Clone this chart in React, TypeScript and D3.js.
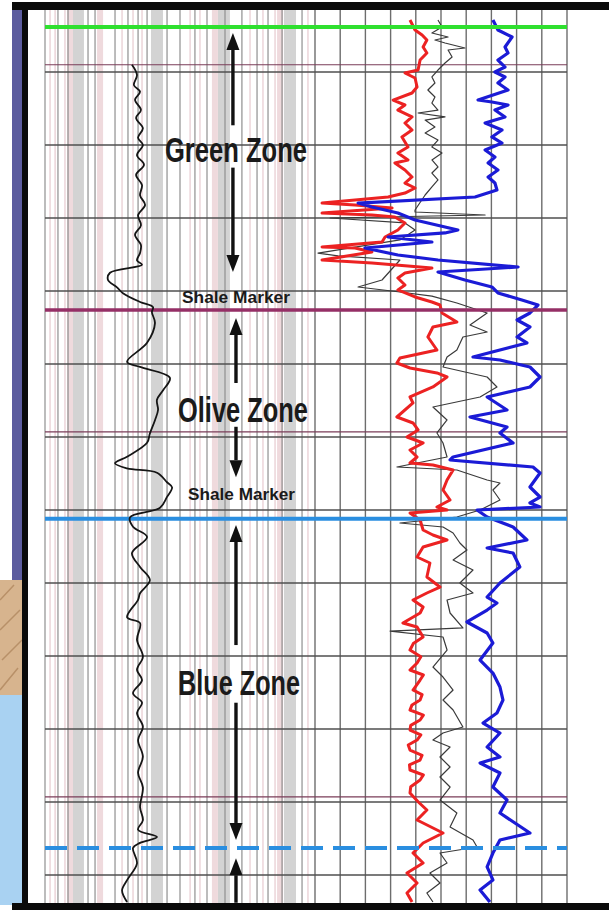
import React from "react";
import * as d3 from "d3";

// depth in ft below the top of the sheet, log values in track units
const majorDepths = [10, 20, 30, 40, 50, 60, 70, 80, 90, 100, 110, 120];
const minorDepths = [9.0, 59.3, 109.3];

// left (GR) track grid, API units 0-150
const grDarkTicks = [0, 7.2, 12.8, 23.9, 27.8, 38.9, 46.1, 51.7, 56.7, 67.8, 75, 83.3, 90, 100, 109.4, 117.8, 123.9, 131.7, 142.8];
const grPinkTicks = [2.8, 5.6, 11.1, 42.8, 48.9, 53.9, 80.6, 86.1, 113.9, 121.1, 127.8, 146.1];
const grGrayBands = [18.3, 62.2, 99.4, 136.1];
const grPinkBands = [13.9, 30.6, 94.4, 130.6];
// right track grid, 0-10
const rightTicks = [0, 1, 2, 3, 4, 5, 6, 7, 8, 9, 10];

const zoneTops = [
  { name: "green", depth: 3.84 },
  { name: "olive", depth: 42.6 },
  { name: "blue", depth: 71.2 },
  { name: "next", depth: 116.3 },
];

const labels = [
  { text: "Green Zone", depth: 22.3, gr: 106.1, size: "big", len: 142 },
  { text: "Shale Marker", depth: 41.6, gr: 106.1, size: "small", len: 108 },
  { text: "Olive Zone", depth: 57.9, gr: 110, size: "big", len: 130 },
  { text: "Shale Marker", depth: 68.6, gr: 109.2, size: "small2", len: 107 },
  { text: "Blue Zone", depth: 95.3, gr: 107.8, size: "big", len: 122 },
];

// [tail depth, tip depth, GR position]
const arrows: [number, number, number][] = [
  [17.3, 4.66, 104.4],
  [23.1, 37.4, 104.4],
  [52.6, 43.7, 106.1],
  [58.6, 65.5, 106.1],
  [88.5, 72.05, 106.1],
  [96.4, 115.2, 106.1],
  [123.8, 117.7, 106.1],
];

const grLog: [number, number][] = [
  [9.0, 48.3], [10.4, 51.1], [11.8, 49.4], [12.7, 52.8], [13.8, 50], [15.2, 53.3], [16.3, 50.6], [17.7, 54.4],
  [19.0, 51.7], [20.0, 54.4], [21.4, 51.1], [22.7, 55], [24.1, 50.6], [25.5, 53.9], [26.9, 52.8], [28.2, 55.6],
  [29.6, 51.7], [31.0, 53.3], [32.3, 50], [33.7, 53.3], [34.8, 52.8], [35.8, 51.1], [36.4, 53.9], [37.5, 36.1],
  [38.5, 35], [39.5, 40], [40.3, 43.3], [41.5, 52.8], [42.2, 60], [42.9, 59.4], [44.4, 61.1], [47.1, 56.7],
  [49.7, 45.6], [50.4, 52.8], [51.9, 69.4], [53.6, 65.6], [54.9, 62.2], [56.3, 62.8], [57.7, 61.1], [59.5, 58.3],
  [60.8, 56.7], [62.7, 45.6], [63.6, 38.9], [64.3, 45.6], [64.9, 62.2], [66.2, 67.8], [66.9, 70.6], [68.2, 67.8],
  [69.7, 63.9], [71.0, 47.2], [72.3, 48.9], [73.7, 56.7], [75.9, 48.3], [77.8, 52.8], [79.6, 58.3], [81.4, 52.8],
  [82.3, 51.7], [84.7, 45.6], [85.5, 52.8], [87.8, 51.1], [90.1, 54.4], [91.9, 51.1], [93.3, 53.9], [95.1, 48.9],
  [96.4, 53.9], [97.8, 51.1], [99.7, 54.4], [101.5, 51.7], [103.8, 54.4], [106.0, 51.7], [108.0, 54.4], [110.7, 52.8],
  [112.5, 54.4], [113.8, 51.7], [114.8, 62.2], [115.6, 52.8], [116.3, 48.9], [118.4, 51.1], [120.7, 45.6], [122.1, 42.8],
  [123.7, 45.6],
];

const redLog: [number, number][] = [
  [2.88, 3.77], [4.25, 3.97], [4.93, 4.25], [5.62, 4.44], [6.58, 4.29], [7.4, 4.44], [8.36, 4.17], [9.73, 4.09],
  [10.14, 3.57], [10.82, 3.97], [12.05, 4.05], [12.88, 3.85], [13.84, 3.1], [14.52, 3.57], [15.21, 3.29], [16.16, 3.85],
  [16.99, 3.57], [17.95, 3.85], [18.9, 3.45], [20.27, 3.69], [21.1, 3.29], [22.05, 3.69], [22.47, 3.17], [23.42, 3.57],
  [24.38, 3.85], [25.21, 3.57], [25.89, 3.97], [26.58, 3.57], [27.12, 2.9], [27.95, 0.28], [28.22, 1.59], [28.63, 3.06],
  [29.32, 0.28], [29.59, 2.26], [29.86, 3.17], [30.68, 3.57], [31.64, 3.29], [32.6, 2.78], [33.29, 2.66], [33.97, 0.28],
  [34.11, 1.59], [34.66, 2.26], [35.75, 0.28], [36.16, 2.26], [36.85, 4.64], [37.53, 3.57], [38.22, 3.29], [39.18, 3.57],
  [39.86, 3.29], [40.82, 3.97], [41.51, 4.64], [41.92, 4.96], [43.01, 5.04], [44.25, 5.63], [44.93, 4.68], [46.3, 4.48],
  [48.08, 4.84], [49.18, 3.37], [49.86, 3.25], [50.55, 3.77], [51.23, 4.84], [51.78, 5.24], [53.15, 4.68], [54.52, 3.77],
  [55.34, 3.89], [57.26, 3.25], [58.08, 3.89], [59.04, 4.09], [60, 3.65], [60.82, 4.29], [61.78, 3.77], [62.74, 4.05],
  [63.56, 3.77], [63.84, 4.68], [64.52, 5.48], [65.89, 5.24], [67.26, 5.08], [68.63, 5.36], [69.59, 4.84], [70, 5.24],
  [70.41, 3.77], [71.37, 4.17], [72.74, 4.29], [73.42, 4.68], [74.11, 5.24], [75.07, 4.29], [76.44, 4.05], [77.26, 4.56],
  [79.18, 4.44], [80.55, 4.96], [81.37, 4.44], [82.33, 3.89], [83.29, 4.29], [84.11, 4.17], [85.48, 3.49], [86.03, 4.05],
  [87.4, 4.29], [88.3, 3.9], [89.18, 3.77], [90.1, 4.2], [90.96, 4.05], [91.92, 3.77], [92.6, 4.3], [93.29, 4.17],
  [94.66, 3.89], [95.3, 4.25], [96.03, 4.17], [96.7, 3.85], [97.4, 3.77], [98.1, 4.3], [98.77, 4.17], [99.5, 3.8],
  [100.14, 3.77], [100.8, 4.2], [101.51, 4.05], [102.2, 3.7], [102.88, 3.77], [103.6, 4.25], [104.25, 4.17], [104.9, 3.75],
  [105.62, 3.77], [106.3, 4.3], [106.99, 4.17], [107.9, 3.8], [108.77, 3.77], [110.0, 4.1], [111.1, 4.44], [112.47, 4.05],
  [114.25, 5.08], [115.62, 4.29], [116.99, 3.89], [118.36, 4.29], [119.73, 3.65], [121.1, 4.05], [122.47, 3.65], [123.7, 3.85],
];

const blackLog: [number, number][] = [
  [2.88, 4.88], [3.84, 5.04], [4.66, 4.64], [5.21, 5.28], [5.62, 4.76], [6.03, 5.16], [6.71, 5.95], [6.99, 5.28],
  [7.95, 5.44], [8.77, 5.16], [9.73, 4.88], [10.68, 4.64], [11.51, 4.76], [12.47, 4.48], [13.42, 4.76], [14.25, 4.64],
  [15.21, 4.88], [15.62, 4.09], [16.16, 5.16], [16.58, 4.37], [17.53, 4.76], [18.36, 4.37], [19.32, 4.88], [20.27, 4.64],
  [21.1, 5.04], [22.05, 4.64], [23.01, 4.88], [23.84, 4.64], [24.79, 4.88], [25.75, 4.64], [26.85, 4.37], [28.9, 3.97],
  [29.18, 3.97], [29.59, 6.75], [30.0, 0.6], [30.68, 3.57], [31.64, 3.97], [33.0, 3.37], [34.8, 0.12], [35.2, 0.91],
  [35.75, 3.37], [38.49, 2.66], [39.45, 1.71], [40.1, 3.29], [40.7, 4.64], [41.64, 5.63], [43.01, 6.83], [44.66, 6.15],
  [45.62, 6.83], [46.3, 5.87], [48.08, 5.63], [49.04, 5.24], [50.41, 5.08], [51.78, 6.83], [53.15, 7.22], [54.52, 6.55],
  [55.89, 4.68], [57.67, 5.24], [59.45, 4.84], [60.82, 5.08], [62.74, 5.24], [64.11, 3.25], [64.52, 5.63], [65.89, 6.83],
  [66.3, 7.34], [67.26, 7.06], [68.63, 7.34], [70, 6.55], [70.96, 5.63], [71.78, 3.37], [72.33, 5.08], [73.15, 5.48],
  [74.52, 5.75], [75.48, 6.03], [76.85, 5.48], [78.22, 6.27], [80, 5.75], [81.37, 6.27], [82.33, 5.24], [84.11, 5.36],
  [86.16, 5.87], [86.58, 2.98], [87.4, 5.08], [89.18, 5.24], [91.51, 4.68], [92.88, 5.08], [94.66, 5.48], [96.03, 5.08],
  [97.4, 5.48], [99.73, 5.87], [100.55, 5.08], [101.51, 4.68], [102.47, 5.36], [103.84, 4.96], [105.21, 5.36], [106.58, 4.96],
  [107.95, 5.36], [109.73, 4.96], [111.51, 5.63], [113.42, 5.36], [115.21, 6.27], [116.16, 6.43], [116.99, 4.96], [118.36, 5.24],
  [119.73, 4.56], [121.1, 4.96], [122.47, 4.44], [123.7, 4.68],
];

const blueLog: [number, number][] = [
  [2.88, 7.06], [4.25, 7.26], [5.21, 7.82], [6.58, 7.54], [7.4, 7.66], [8.36, 7.26], [9.32, 7.54], [10, 7.14],
  [10.68, 7.54], [11.51, 7.26], [12.47, 7.66], [13.84, 6.47], [14.11, 7.02], [14.52, 7.66], [15.21, 7.14], [16.16, 7.54],
  [16.99, 6.75], [17.95, 7.42], [18.9, 7.02], [19.73, 7.42], [20.68, 6.75], [21.64, 7.14], [22.47, 6.87], [23.42, 7.26],
  [24.38, 6.87], [25.21, 7.14], [26.16, 7.22], [27.12, 6.35], [27.95, 1.71], [28.49, 2.26], [29.32, 3.29], [30.27, 3.97],
  [31.23, 5.16], [31.64, 5.67], [32.05, 5.16], [32.6, 2.9], [33.29, 4.64], [34.11, 1.98], [35.07, 3.29], [35.75, 4.88],
  [36.71, 8.06], [37.4, 4.88], [38.49, 5.95], [39.45, 7.02], [40.27, 7.26], [41.23, 8.21], [41.92, 8.85], [43.01, 8.53],
  [43.97, 8.02], [44.93, 8.53], [46.3, 8.02], [47.12, 8.41], [49.04, 6.27], [49.45, 7.34], [50.41, 8.53], [51.78, 8.93],
  [53.15, 8.53], [54.52, 6.83], [56.3, 7.62], [57.26, 6.15], [58.63, 7.62], [59.45, 7.34], [60.82, 7.86], [62.74, 5.48],
  [63.15, 5.36], [64.11, 8.65], [64.93, 8.93], [66.85, 8.53], [68.22, 8.93], [69.04, 8.53], [69.59, 8.93], [70, 6.43],
  [70.96, 6.83], [72.33, 7.86], [74.11, 8.41], [75.21, 6.83], [75.89, 7.86], [77.81, 8.13], [80, 7.34], [81.92, 6.83],
  [82.74, 7.22], [83.7, 6.83], [85.34, 6.03], [86.85, 6.83], [88.22, 7.06], [90.55, 6.55], [92.33, 7.06], [94.25, 7.34],
  [96.03, 7.46], [97.81, 7.22], [99.18, 6.67], [100.55, 7.34], [102.47, 6.83], [103.84, 7.34], [104.66, 6.55], [106.03, 7.34],
  [107.95, 7.06], [109.73, 7.62], [111.51, 7.34], [114.25, 8.53], [115.21, 7.34], [116.99, 7.06], [118.9, 6.83], [120.68, 7.06],
  [122.05, 6.55], [123.7, 6.94],
];

const W = 609;
const H = 910;
const FRAME = { left: 45, split: 315, right: 567, top: 10, bottom: 903 };

const zoneColor: Record<string, string> = {
  green: "#2fe02f",
  olive: "#952f66",
  blue: "#2a8ee0",
  next: "#2a8ee0",
};
const fontSize: Record<string, number> = { big: 35, small: 16, small2: 17 };

export default function App() {
  const y = d3.scaleLinear().domain([0, 125]).range([-1, 911.5]);
  const xGR = d3.scaleLinear().domain([0, 150]).range([FRAME.left, FRAME.split]);
  const xR = d3.scaleLinear().domain([0, 10]).range([FRAME.split, FRAME.right]);

  const grLine = d3
    .line<[number, number]>()
    .x((d) => xGR(d[1]))
    .y((d) => y(d[0]))
    .curve(d3.curveCatmullRom.alpha(0.5));
  const rLine = d3
    .line<[number, number]>()
    .x((d) => xR(d[1]))
    .y((d) => y(d[0]));

  const gridH = FRAME.bottom - FRAME.top;

  return (
    <svg
      width={W}
      height={H}
      style={{ position: "absolute", left: 0, top: 0, background: "#fff" }}
    >
      <defs>
        <clipPath id="plot">
          <rect x={FRAME.left} y={FRAME.top} width={FRAME.right - FRAME.left} height={gridH} />
        </clipPath>
      </defs>

      {/* slide background bits on the left */}
      <rect x={12} y={10} width={10} height={570} fill="#5c5c9e" />
      <rect x={0} y={580} width={22} height={115} fill="#d7b48e" />
      <path d="M0,600 L14,585 M0,630 L20,610 M2,660 L22,640 M0,690 L18,668" stroke="#b89068" strokeWidth={1.5} />
      <rect x={0} y={695} width={22} height={210} fill="#a9d2f2" />

      {/* left track shading */}
      <g>
        {grGrayBands.map((v, i) => (
          <rect key={"gb" + i} x={xGR(v) - 6} y={FRAME.top} width={12} height={gridH} fill="#d3d3d3" />
        ))}
        {grPinkBands.map((v, i) => (
          <rect key={"pb" + i} x={xGR(v) - 3} y={FRAME.top} width={6} height={gridH} fill="#efdadd" />
        ))}
        {grPinkTicks.map((v, i) => (
          <line key={"pt" + i} x1={xGR(v)} x2={xGR(v)} y1={FRAME.top} y2={FRAME.bottom} stroke="#e2bfc6" strokeWidth={1} />
        ))}
        {grDarkTicks.map((v, i) => (
          <line key={"dt" + i} x1={xGR(v)} x2={xGR(v)} y1={FRAME.top} y2={FRAME.bottom} stroke="#8f8f8f" strokeWidth={1.2} />
        ))}
      </g>

      {/* right track grid */}
      <g>
        {rightTicks.map((v) => (
          <line key={"rt" + v} x1={xR(v)} x2={xR(v)} y1={FRAME.top} y2={FRAME.bottom} stroke="#6d6d6d" strokeWidth={1.4} />
        ))}
      </g>

      {/* depth grid */}
      <g>
        {majorDepths.map((d) => (
          <line key={"md" + d} x1={FRAME.left} x2={FRAME.right} y1={y(d)} y2={y(d)} stroke="#4f4f4f" strokeWidth={1.3} />
        ))}
        {minorDepths.map((d) => (
          <line key={"nd" + d} x1={FRAME.left} x2={FRAME.right} y1={y(d)} y2={y(d)} stroke="#7a3c58" strokeWidth={1.1} />
        ))}
      </g>

      {/* logs */}
      <g clipPath="url(#plot)" fill="none" strokeLinejoin="round">
        <path d={rLine(blackLog) || ""} stroke="#3a3a3a" strokeWidth={1.2} />
        <path d={rLine(redLog) || ""} stroke="#ec2222" strokeWidth={3} />
        <path d={rLine(blueLog) || ""} stroke="#1b1bd6" strokeWidth={3.2} />
      </g>

      {/* zone tops */}
      {zoneTops.map((z) => (
        <line
          key={z.name}
          x1={FRAME.left}
          x2={FRAME.right}
          y1={y(z.depth)}
          y2={y(z.depth)}
          stroke={zoneColor[z.name]}
          strokeWidth={z.name === "olive" ? 3.5 : 4}
          strokeDasharray={z.name === "next" ? "22 10" : undefined}
        />
      ))}

      <path d={grLine(grLog) || ""} fill="none" stroke="#151515" strokeWidth={1.8} clipPath="url(#plot)" />

      {/* arrows */}
      {arrows.map(([tail, tip, g], i) => {
        const x = xGR(g);
        const yt = y(tip);
        const dir = tip < tail ? 1 : -1;
        const base = yt + dir * 17;
        return (
          <g key={"ar" + i}>
            <line x1={x} x2={x} y1={y(tail)} y2={base} stroke="#111" strokeWidth={3.4} />
            <path d={`M${x},${yt} L${x - 6.5},${base} L${x + 6.5},${base} Z`} fill="#111" />
          </g>
        );
      })}

      {/* labels */}
      {labels.map((l, i) => (
        <text
          key={"lb" + i}
          x={xGR(l.gr)}
          y={y(l.depth)}
          textAnchor="middle"
          fontFamily="'Liberation Sans Narrow', 'Liberation Sans', Arial, sans-serif"
          fontWeight="bold"
          fontSize={fontSize[l.size]}
          textLength={l.len}
          lengthAdjust="spacingAndGlyphs"
          fill="#1a1a1a"
        >
          {l.text}
        </text>
      ))}

      {/* frame */}
      <rect x={12} y={2} width={597} height={8} fill="#0a0a0a" />
      <rect x={22} y={10} width={6} height={895} fill="#0a0a0a" />
      <rect x={12} y={903} width={597} height={7} fill="#0a0a0a" />
    </svg>
  );
}
